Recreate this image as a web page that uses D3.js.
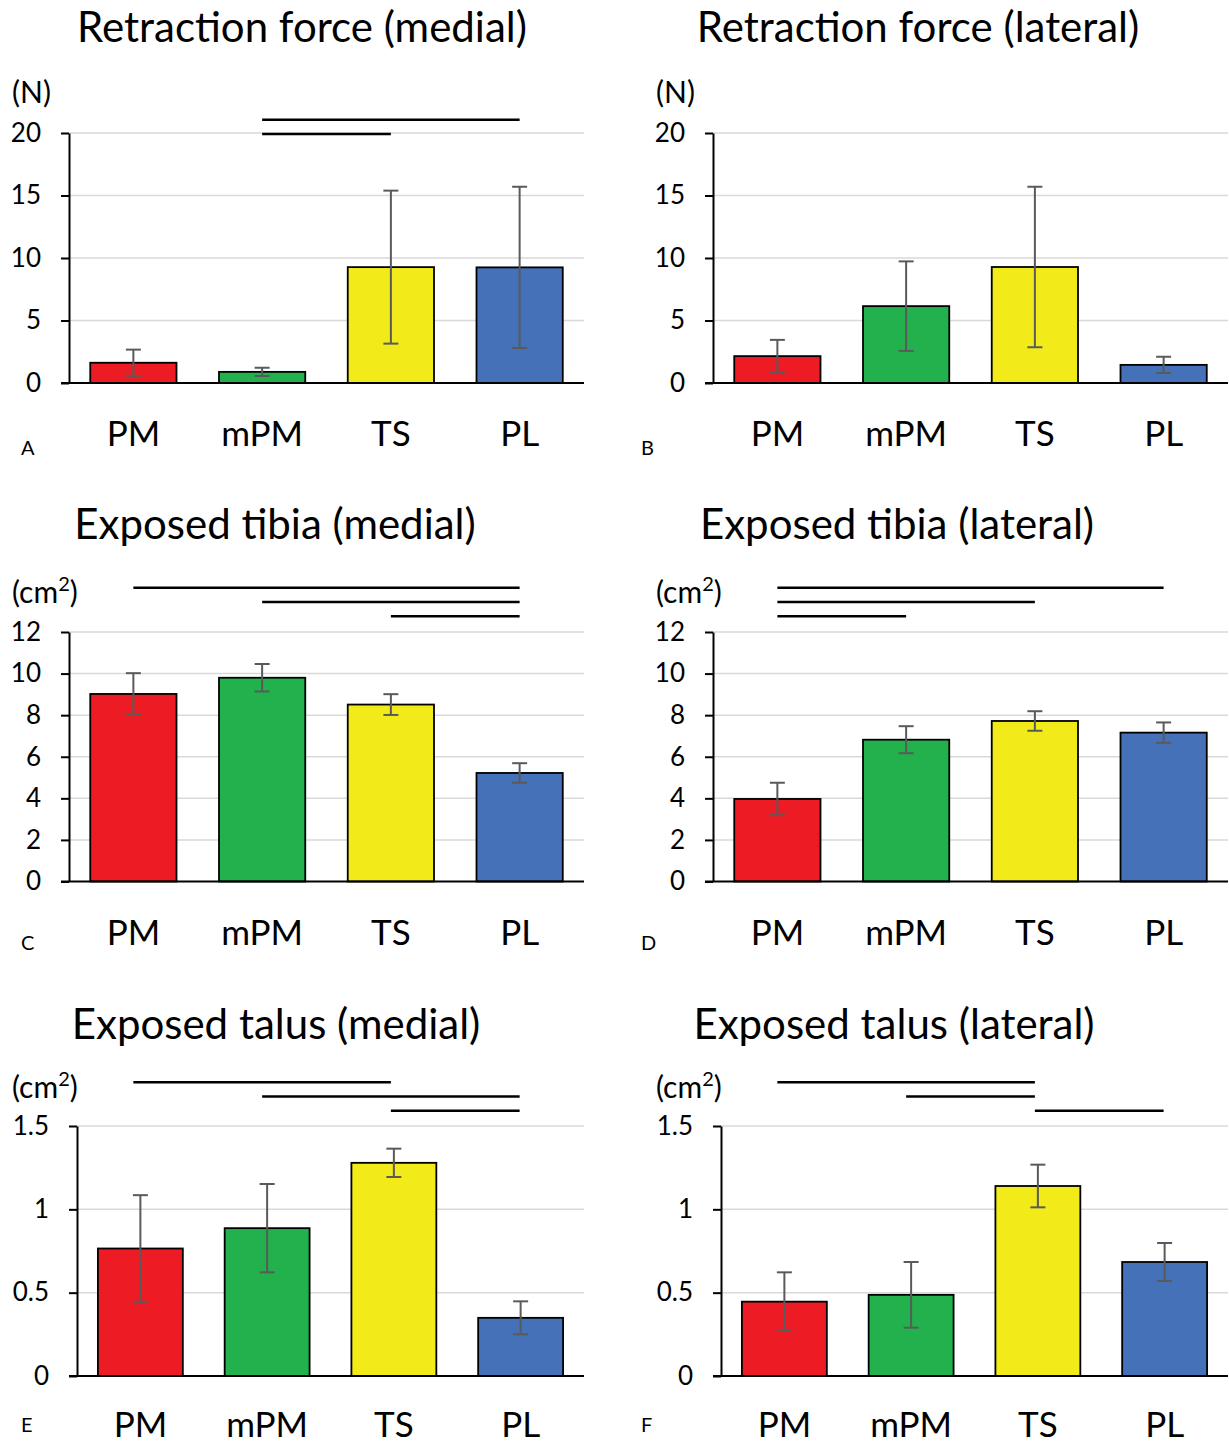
<!DOCTYPE html>
<html>
<head>
<meta charset="utf-8">
<script src="https://cdn.jsdelivr.net/npm/d3@7"></script>
<style>
  body { margin: 0; background: #fff; }
  svg { display: block; font-family: Lato, 'Open Sans', sans-serif; }
</style>
</head>
<body>
<div id="app"></div>
<script>
'use strict'

// groups on the x axis
const categories = ['PM', 'mPM', 'TS', 'PL']
const barColors = ['#ed1c24', '#22b14c', '#f2eb19', '#4571b9']

// mean and SD
const forceMedialMean = [1.62, 0.89, 9.27, 9.25]
const forceMedialSd = [1.05, 0.33, 6.12, 6.45]
const forceLateralMean = [2.15, 6.15, 9.28, 1.45]
const forceLateralSd = [1.3, 3.58, 6.42, 0.65]
const tibiaMedialMean = [9.02, 9.8, 8.51, 5.22]
const tibiaMedialSd = [1.0, 0.66, 0.5, 0.47]
const tibiaLateralMean = [3.97, 6.82, 7.72, 7.16]
const tibiaLateralSd = [0.78, 0.65, 0.47, 0.49]
const talusMedialMean = [0.765, 0.887, 1.279, 0.349]
const talusMedialSd = [0.32, 0.265, 0.085, 0.099]
const talusLateralMean = [0.446, 0.487, 1.14, 0.684]
const talusLateralSd = [0.176, 0.197, 0.128, 0.114]

// significant pairs, lowest bar first
const forceMedialSig = [['mPM', 'TS'], ['mPM', 'PL']]
const forceLateralSig = []
const tibiaMedialSig = [['TS', 'PL'], ['mPM', 'PL'], ['PM', 'PL']]
const tibiaLateralSig = [['PM', 'mPM'], ['PM', 'TS'], ['PM', 'PL']]
const talusMedialSig = [['TS', 'PL'], ['mPM', 'PL'], ['PM', 'TS']]
const talusLateralSig = [['TS', 'PL'], ['mPM', 'TS'], ['PM', 'TS']]

// axis ticks
const forceTicks = [0, 5, 10, 15, 20]
const tibiaTicks = [0, 2, 4, 6, 8, 10, 12]
const talusTicks = [0, 0.5, 1, 1.5]

const W = 1229
const H = 1444

const svg = d3.select('#app').append('svg')
  .attr('width', W)
  .attr('height', H)

// x scale of the top row is also used to place the significance lines
const sigScaleLeft = d3.scaleBand().domain(categories).range([69, 584])
  .paddingInner(0.33).paddingOuter(0.165)
const sigScaleRight = d3.scaleBand().domain(categories).range([713, 1228])
  .paddingInner(0.33).paddingOuter(0.165)

const panels = [
  { title: 'Retraction force (medial)', tx: 302, ty: 42, unit: '(N)', ux: 12, uy: 103,
    letter: 'A', lx: 21, ly: 455, left: 69, right: 584, top: 133, bottom: 383, labY: 446,
    mean: forceMedialMean, sd: forceMedialSd, ticks: forceTicks, sig: forceMedialSig,
    sigX: sigScaleLeft, sigY: 134, fmt: d3.format('d') },
  { title: 'Retraction force (lateral)', tx: 918, ty: 42, unit: '(N)', ux: 656, uy: 103,
    letter: 'B', lx: 641, ly: 455, left: 713, right: 1228, top: 133, bottom: 383, labY: 446,
    mean: forceLateralMean, sd: forceLateralSd, ticks: forceTicks, sig: forceLateralSig,
    sigX: sigScaleRight, sigY: 134, fmt: d3.format('d') },
  { title: 'Exposed tibia (medial)', tx: 275, ty: 539, unit: 'cm', ux: 12, uy: 603,
    letter: 'C', lx: 21, ly: 950, left: 69, right: 584, top: 632, bottom: 881.5, labY: 945,
    mean: tibiaMedialMean, sd: tibiaMedialSd, ticks: tibiaTicks, sig: tibiaMedialSig,
    sigX: sigScaleLeft, sigY: 616.3, fmt: d3.format('d') },
  { title: 'Exposed tibia (lateral)', tx: 897, ty: 539, unit: 'cm', ux: 656, uy: 603,
    letter: 'D', lx: 641, ly: 950, left: 713, right: 1228, top: 632, bottom: 881.5, labY: 945,
    mean: tibiaLateralMean, sd: tibiaLateralSd, ticks: tibiaTicks, sig: tibiaLateralSig,
    sigX: sigScaleRight, sigY: 616.3, fmt: d3.format('d') },
  { title: 'Exposed talus (medial)', tx: 276, ty: 1039, unit: 'cm', ux: 12, uy: 1098,
    letter: 'E', lx: 21, ly: 1432, left: 77, right: 584, top: 1126, bottom: 1376, labY: 1437,
    mean: talusMedialMean, sd: talusMedialSd, ticks: talusTicks, sig: talusMedialSig,
    sigX: sigScaleLeft, sigY: 1110.8, fmt: d3.format('') },
  { title: 'Exposed talus (lateral)', tx: 894, ty: 1039, unit: 'cm', ux: 656, uy: 1098,
    letter: 'F', lx: 641, ly: 1432, left: 721, right: 1228, top: 1126, bottom: 1376, labY: 1437,
    mean: talusLateralMean, sd: talusLateralSd, ticks: talusTicks, sig: talusLateralSig,
    sigX: sigScaleRight, sigY: 1110.8, fmt: d3.format('') }
]

panels.forEach(p => {
  const g = svg.append('g')
  const maxV = p.ticks[p.ticks.length - 1]

  const x = d3.scaleBand().domain(categories).range([p.left, p.right])
    .paddingInner(0.33).paddingOuter(0.165)
  const y = d3.scaleLinear().domain([0, maxV]).range([p.bottom, p.top])

  // gridlines
  g.append('g').selectAll('line')
    .data(p.ticks.filter(t => t > 0))
    .enter().append('line')
    .attr('x1', p.left).attr('x2', p.right)
    .attr('y1', d => y(d)).attr('y2', d => y(d))
    .attr('stroke', '#d9d9d9')
    .attr('stroke-width', 1.5)

  // y axis with ticks and labels
  const yAxis = g.append('g')
    .attr('transform', `translate(${p.left},0)`)
    .call(d3.axisLeft(y).tickValues(p.ticks).tickSize(8).tickSizeOuter(0)
      .tickPadding(20).tickFormat(p.fmt))
  yAxis.select('.domain').attr('stroke', '#000').attr('stroke-width', 2)
  yAxis.selectAll('.tick line').attr('stroke', '#000').attr('stroke-width', 2)
  yAxis.selectAll('.tick text')
    .style('font-family', 'Lato, sans-serif')
    .style('font-size', '26px')
    .attr('fill', '#000')

  // bars
  g.append('g').selectAll('rect')
    .data(categories)
    .enter().append('rect')
    .attr('x', d => x(d))
    .attr('y', (d, i) => y(p.mean[i]))
    .attr('width', x.bandwidth())
    .attr('height', (d, i) => y(0) - y(p.mean[i]))
    .attr('fill', (d, i) => barColors[i])
    .attr('stroke', '#000')
    .attr('stroke-width', 1.8)

  // error bars
  const err = g.append('g').attr('stroke', '#5a5a5a').attr('stroke-width', 2)
  categories.forEach((c, i) => {
    const cx = x(c) + x.bandwidth() / 2
    const hi = y(p.mean[i] + p.sd[i])
    const lo = y(p.mean[i] - p.sd[i])
    err.append('line').attr('x1', cx).attr('x2', cx).attr('y1', hi).attr('y2', lo)
    err.append('line').attr('x1', cx - 7.5).attr('x2', cx + 7.5).attr('y1', hi).attr('y2', hi)
    err.append('line').attr('x1', cx - 7.5).attr('x2', cx + 7.5).attr('y1', lo).attr('y2', lo)
  })

  // x baseline
  g.append('line')
    .attr('x1', p.left - 8).attr('x2', p.right)
    .attr('y1', p.bottom).attr('y2', p.bottom)
    .attr('stroke', '#000')
    .attr('stroke-width', 2)

  // category labels
  const xAxis = g.append('g')
    .attr('transform', `translate(0,${p.labY})`)
    .call(d3.axisBottom(x).tickSize(0).tickPadding(0))
  xAxis.select('.domain').remove()
  xAxis.selectAll('.tick text')
    .attr('dy', 0)
    .style('font-family', 'Lato, sans-serif')
    .style('font-size', '35px')
    .attr('fill', '#000')

  // significance lines
  g.append('g').selectAll('line')
    .data(p.sig)
    .enter().append('line')
    .attr('x1', d => p.sigX(d[0]) + p.sigX.bandwidth() / 2)
    .attr('x2', d => p.sigX(d[1]) + p.sigX.bandwidth() / 2)
    .attr('y1', (d, i) => p.sigY - i * 14.3)
    .attr('y2', (d, i) => p.sigY - i * 14.3)
    .attr('stroke', '#000')
    .attr('stroke-width', 2.5)

  // title
  g.append('text')
    .attr('x', p.tx).attr('y', p.ty)
    .attr('text-anchor', 'middle')
    .style('font-size', '42px')
    .text(p.title)

  // unit label
  const u = g.append('text')
    .attr('x', p.ux).attr('y', p.uy)
    .style('font-size', '30px')
  if (p.unit === 'cm') {
    u.append('tspan').text('(cm')
    u.append('tspan').attr('dy', -12).style('font-size', '20px').text('2')
    u.append('tspan').attr('dy', 12).text(')')
  } else {
    u.text(p.unit)
  }

  // panel letter
  g.append('text')
    .attr('x', p.lx).attr('y', p.ly)
    .style('font-size', '20px')
    .text(p.letter)
})
</script>
</body>
</html>
